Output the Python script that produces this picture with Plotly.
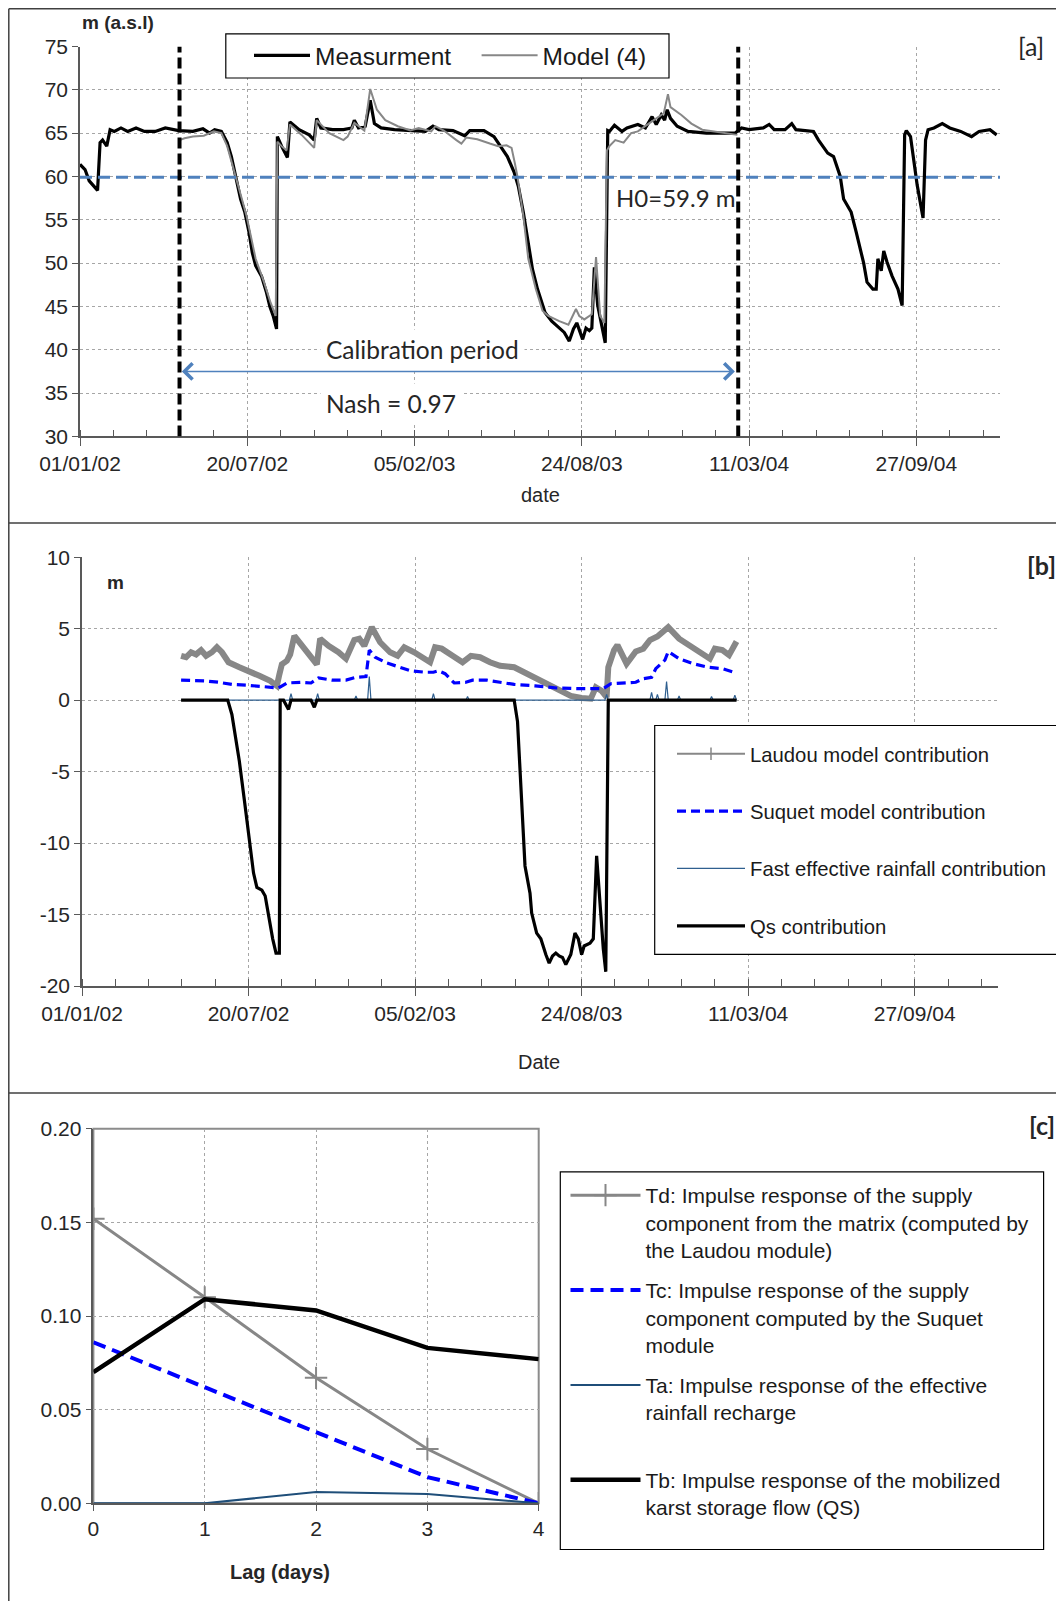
import pandas as pd
import plotly.graph_objects as go

# Piezometric level, contributions and impulse responses (karst model).
W, H = 1056, 1593     # page body keeps an 8 px margin
OFF = 8
START = pd.Timestamp("2002-01-01")
END_DAY = 1100

# ---- panel [a] : measured vs modelled level (days since 01/01/02)
meas_days = [0, 6, 11, 16, 21, 24, 27, 32, 36, 41, 49, 57, 67, 77, 90, 102, 118, 135, 147, 155,
             161, 169, 176, 181, 186, 192, 197, 202, 206, 210, 217, 223, 227, 231, 235, 236, 241,
             248, 251, 262, 274, 280, 283, 288, 302, 315, 325, 328, 333, 341, 347, 352, 360, 376,
             397, 413, 422, 429, 446, 460, 466, 483, 495, 505, 511, 519, 524, 530, 536, 541, 547,
             556, 564, 573, 579, 585, 590, 594, 598, 601, 605, 609, 612, 615, 619, 624, 628, 631,
             633, 639, 648, 654, 667, 676, 684, 689, 695, 699, 702, 706, 714, 727, 749, 783, 791,
             800, 817, 824, 830, 843, 851, 856, 877, 883, 890, 894, 901, 909, 913, 922, 928, 933,
             937, 941, 948, 952, 954, 958, 961, 965, 971, 978, 983, 986, 988, 993, 1001, 1008,
             1011, 1014, 1021, 1031, 1040, 1053, 1066, 1075, 1088, 1096]
meas_level = [61.4, 60.8, 59.5, 58.9, 58.4, 63.9, 64.2, 63.5, 65.4, 65.2, 65.6, 65.2, 65.6, 65.2,
              65.2, 65.6, 65.3, 65.2, 65.5, 65.0, 65.4, 65.2, 63.9, 62.3, 60.0, 57.4, 55.9, 53.6,
              51.2, 49.7, 48.5, 46.6, 45.0, 43.9, 42.4, 64.6, 63.5, 62.2, 66.3, 65.4, 64.8, 64.2,
              66.7, 65.6, 65.4, 65.4, 65.6, 66.5, 65.6, 65.8, 68.8, 66.1, 65.6, 65.4, 65.3, 65.2,
              65.8, 65.4, 65.3, 64.7, 65.3, 65.3, 64.6, 63.1, 62.3, 60.5, 58.9, 55.9, 52.4, 49.3,
              47.0, 44.3, 43.3, 42.5, 42.0, 41.0, 42.4, 43.1, 42.0, 41.2, 42.5, 42.2, 42.5, 49.5,
              45.1, 42.7, 40.8, 65.3, 65.2, 65.9, 65.2, 65.6, 66.0, 65.6, 66.9, 66.0, 67.1, 66.5,
              67.7, 66.7, 65.8, 65.2, 65.0, 65.0, 65.6, 65.4, 65.6, 66.0, 65.4, 65.4, 66.1, 65.4,
              65.2, 64.2, 63.3, 62.7, 62.3, 60.0, 57.4, 55.9, 53.6, 51.4, 50.0, 47.8, 47.0, 47.0,
              50.5, 49.1, 51.4, 50.1, 48.5, 47.0, 45.1, 64.8, 65.3, 64.6, 59.0, 55.2, 64.2, 65.4,
              65.6, 66.1, 65.6, 65.2, 64.6, 65.2, 65.4, 64.8]

model_days = [119, 125, 135, 148, 160, 169, 176, 181, 187, 193, 199, 205, 210, 220, 228, 234, 236,
              241, 247, 251, 265, 280, 283, 298, 315, 320, 328, 340, 347, 355, 365, 380, 395, 405,
              420, 425, 435, 450, 456, 462, 475, 490, 500, 510, 516, 520, 523, 530, 536, 545, 553,
              560, 573, 584, 593, 597, 603, 612, 617, 622, 627, 630, 633, 640, 650, 659, 667, 680,
              689, 698, 703, 706, 719, 731, 744, 757, 774, 786]
model_level = [64.2, 64.4, 64.6, 64.7, 65.2, 65.0, 63.5, 61.8, 59.7, 57.4, 55.5, 52.8, 50.5, 47.8,
               45.4, 43.9, 64.0, 63.5, 63.0, 66.0, 64.8, 63.3, 66.5, 65.0, 64.2, 64.6, 66.2, 65.3,
               70.1, 67.7, 66.5, 65.8, 65.3, 65.6, 65.2, 65.8, 65.3, 64.2, 63.8, 64.5, 64.3, 63.8,
               63.5, 63.6, 63.3, 61.5, 60.0, 55.5, 50.5, 47.0, 44.5, 43.9, 43.3, 42.9, 44.7, 43.9,
               43.5, 44.1, 50.7, 43.9, 43.1, 63.0, 63.5, 64.2, 63.9, 65.0, 65.2, 66.1, 66.7, 67.3,
               69.5, 68.0, 67.1, 66.1, 65.4, 65.2, 65.0, 64.8]

H0 = 59.9
calib_start_day, calib_end_day = 119, 787

# ---- panel [b] : contributions (m)
laudou_days = [119, 125, 131, 137, 143, 149, 156, 162, 168, 176, 189, 201, 213, 226, 234, 237, 240,
               246, 250, 255, 265, 277, 282, 286, 296, 308, 317, 327, 333, 339, 348, 358, 370, 379,
               387, 399, 412, 418, 424, 432, 445, 457, 467, 478, 490, 502, 519, 535, 552, 570, 587,
               600, 611, 617, 624, 630, 632, 639, 643, 654, 665, 674, 682, 691, 704, 717, 730, 743,
               754, 760, 769, 777, 784, 786]
laudou_m = [3.1, 3.0, 3.35, 3.2, 3.5, 3.1, 3.35, 3.7, 3.35, 2.65, 2.3, 2.05, 1.7, 1.35, 1.0, 1.8,
            2.5, 2.75, 3.2, 4.5, 3.7, 2.75, 2.5, 4.3, 3.8, 3.35, 2.9, 4.2, 4.3, 3.8, 5.1, 4.05,
            3.35, 3.1, 3.7, 3.35, 2.9, 2.65, 3.7, 3.6, 3.1, 2.65, 3.1, 3.0, 2.65, 2.4, 2.3, 1.85,
            1.35, 0.8, 0.3, 0.15, 0.1, 0.9, 0.65, 0.2, 2.3, 3.5, 3.85, 2.55, 3.4, 3.6, 4.2, 4.45,
            5.1, 4.3, 3.85, 3.4, 2.9, 3.6, 3.5, 3.15, 3.85, 4.1]

suquet_days = [119, 131, 147, 164, 180, 197, 213, 230, 236, 246, 263, 275, 284, 300, 317, 329, 341,
               345, 352, 366, 383, 395, 412, 422, 428, 436, 447, 461, 469, 486, 502, 519, 544, 570,
               600, 626, 635, 652, 665, 674, 684, 689, 700, 704, 717, 734, 752, 769, 777, 786]
suquet_m = [1.4, 1.4, 1.35, 1.25, 1.1, 1.05, 0.95, 0.9, 0.85, 1.2, 1.25, 1.2, 1.55, 1.4, 1.4, 1.6,
            1.65, 3.5, 3.0, 2.6, 2.3, 2.05, 1.95, 1.95, 2.05, 1.85, 1.2, 1.25, 1.4, 1.4, 1.25, 1.1,
            1.0, 0.85, 0.8, 0.8, 1.15, 1.2, 1.25, 1.5, 1.6, 2.2, 2.8, 3.4, 2.9, 2.55, 2.3, 2.2,
            2.05, 1.9]

rain_days = [119, 249, 251, 253, 281, 283, 285, 327, 329, 331, 343, 345, 347, 420, 422, 424, 461,
             463, 465, 628, 630, 632, 682, 684, 686, 689, 691, 693, 700, 702, 704, 715, 717, 719,
             754, 756, 758, 782, 784, 786]
rain_m = [0, 0, 0.45, 0, 0, 0.45, 0, 0, 0.3, 0, 0, 1.65, 0, 0, 0.45, 0, 0, 0.25, 0, 0, 0.4, 0, 0,
          0.55, 0, 0, 0.4, 0, 0, 1.3, 0, 0, 0.3, 0, 0, 0.25, 0, 0, 0.35, 0]

qs_days = [119, 175, 180, 189, 195, 200, 206, 210, 216, 220, 224, 229, 233, 237, 238, 242, 248, 251,
           275, 279, 282, 519, 523, 528, 532, 538, 540, 546, 551, 557, 561, 565, 569, 573, 577, 581,
           587, 592, 596, 600, 603, 610, 614, 618, 622, 626, 629, 632, 786]
qs_m = [0, 0, -1, -4.3, -7, -9.3, -12.1, -13.1, -13.3, -13.7, -15.1, -16.7, -17.7, -17.7, 0, 0,
        -0.65, 0, 0, -0.5, 0, 0, -1.5, -7, -11.6, -13.5, -14.9, -16.3, -16.7, -17.8, -18.4, -17.9,
        -17.7, -17.9, -18, -18.5, -17.8, -16.3, -16.7, -17.8, -17.2, -17, -16.7, -10.9, -14.4,
        -17.4, -19, 0, 0]
b_ticks = [-20, -15, -10, -5, 0, 5, 10]
b_ticklabels = ["-20", "-15", "-10", "-5", "0", "5", "10"]

# ---- panel [c] : impulse responses
lag = [0, 1, 2, 3, 4]
td = [0.152, 0.110, 0.067, 0.029, 0.000]
tc = [0.086, 0.062, 0.038, 0.014, 0.000]
ta = [0.000, 0.000, 0.006, 0.005, 0.000]
tb = [0.070, 0.109, 0.103, 0.083, 0.077]

GRAY = "#878787"
STEEL = "#4F81BD"
AXC = "#595959"
TXT = "#262626"
ARIAL = "Liberation Sans, Arial, sans-serif"
CALIBRI = "Lato, Carlito, sans-serif"


def dates(days):
    return START + pd.to_timedelta(days, unit="D")


def day(d):
    return START + pd.Timedelta(days=d)


# screen pixel -> paper fraction
def px(x):
    return (x - OFF) / W


def py(y):
    return 1 - (y - OFF) / H


fig = go.Figure()

# [a]
fig.add_trace(go.Scatter(x=dates(meas_days), y=meas_level, mode="lines",
                         name="Measurment\u00a0\u00a0\u00a0",
                         line=dict(color="black", width=3.2), xaxis="x", yaxis="y",
                         legend="legend"))
fig.add_trace(go.Scatter(x=dates(model_days), y=model_level, mode="lines", name="Model (4)",
                         line=dict(color=GRAY, width=2), xaxis="x", yaxis="y",
                         legend="legend"))

# [b]
fig.add_trace(go.Scatter(x=[None], y=[None], mode="lines+markers", name="Laudou model contribution",
                         line=dict(color=GRAY, width=2),
                         marker=dict(symbol="line-ns", size=9, line=dict(color=GRAY, width=1.5)),
                         xaxis="x2", yaxis="y2", legend="legend2", legendgroup="b1"))
fig.add_trace(go.Scatter(x=dates(laudou_days), y=laudou_m, mode="lines", showlegend=False,
                         line=dict(color=GRAY, width=6), xaxis="x2", yaxis="y2"))
fig.add_trace(go.Scatter(x=dates(suquet_days), y=suquet_m, mode="lines",
                         name="Suquet model contribution",
                         line=dict(color="#0000FF", width=3.2, dash="9px,5px"),
                         xaxis="x2", yaxis="y2", legend="legend2", legendgroup="b2"))
fig.add_trace(go.Scatter(x=dates(rain_days), y=rain_m, mode="lines",
                         name="Fast effective rainfall contribution",
                         line=dict(color="#2F5F8F", width=1.2),
                         xaxis="x2", yaxis="y2", legend="legend2", legendgroup="b3"))
fig.add_trace(go.Scatter(x=dates(qs_days), y=qs_m, mode="lines", name="Qs contribution",
                         line=dict(color="black", width=3.2),
                         xaxis="x2", yaxis="y2", legend="legend2", legendgroup="b4"))

# [c]
fig.add_trace(go.Scatter(x=lag, y=td, mode="lines+markers",
                         name="Td: Impulse response of the supply<br>component from the matrix "
                              "(computed by<br>the Laudou module)",
                         line=dict(color=GRAY, width=3),
                         marker=dict(symbol="cross-thin", size=16, line=dict(color=GRAY, width=2)),
                         xaxis="x3", yaxis="y3", legend="legend3", legendgroup="c1"))
fig.add_trace(go.Scatter(x=lag, y=tc, mode="lines",
                         name="Tc: Impulse response of the supply<br>component computed by the "
                              "Suquet<br>module",
                         line=dict(color="#0000FF", width=4, dash="13px,7px"),
                         xaxis="x3", yaxis="y3", legend="legend3", legendgroup="c2"))
fig.add_trace(go.Scatter(x=lag, y=ta, mode="lines",
                         name="Ta: Impulse response of the effective<br>rainfall recharge<br>\u00a0",
                         line=dict(color="#1F4E79", width=2),
                         xaxis="x3", yaxis="y3", legend="legend3", legendgroup="c3"))
fig.add_trace(go.Scatter(x=lag, y=tb, mode="lines",
                         name="Tb: Impulse response of the mobilized<br>karst storage flow (QS)"
                              "<br>\u00a0",
                         line=dict(color="black", width=4.5),
                         xaxis="x3", yaxis="y3", legend="legend3", legendgroup="c4"))

tickfont = dict(family=ARIAL, size=21, color=TXT)
grid = dict(showgrid=True, gridcolor="#A6A6A6", gridwidth=1, griddash="dot")
date_axis = dict(type="date", range=[day(0), day(END_DAY)], tick0="2002-01-01",
                 dtick=200 * 86400000, tickformat="%d/%m/%y", ticks="outside", ticklen=8,
                 tickcolor=AXC, showline=True, linecolor=AXC, linewidth=1.5, tickfont=tickfont,
                 automargin=False, zeroline=False,
                 minor=dict(tick0="2002-01-01", dtick=40 * 86400000, ticks="inside", ticklen=7,
                            tickcolor=AXC, showgrid=False),
                 **grid)
val_axis = dict(ticks="outside", ticklen=6, tickcolor=AXC, showline=True, linecolor=AXC,
                linewidth=1.5, tickfont=tickfont, automargin=False, zeroline=False, **grid)
clear = "rgba(0,0,0,0)"

fig.update_layout(
    width=W, height=H, autosize=False,
    margin=dict(l=0, r=0, t=0, b=0),
    paper_bgcolor="white", plot_bgcolor="white",
    xaxis=dict(domain=[px(80), px(1000)], anchor="y", **date_axis),
    yaxis=dict(domain=[py(436.4), py(46.5)], anchor="x", range=[30, 75], dtick=5, **val_axis),
    xaxis2=dict(domain=[px(82), px(998)], anchor="y2", **date_axis),
    yaxis2=dict(domain=[py(986), py(557.2)], anchor="x2", range=[-20, 10],
                tickvals=b_ticks, ticktext=b_ticklabels, **val_axis),
    xaxis3=dict(domain=[px(93.4), px(538.7)], anchor="y3", range=[0, 4], dtick=1,
                ticks="outside", ticklen=6, tickcolor=AXC, showline=True, linecolor=AXC,
                linewidth=1.5, tickfont=tickfont, automargin=False, zeroline=False, **grid),
    yaxis3=dict(domain=[py(1503.3), py(1128.8)], anchor="x3", range=[0, 0.2], dtick=0.05,
                tickformat=".2f", **val_axis),
    legend=dict(x=px(249), y=py(55.4), xanchor="left", yanchor="middle", orientation="h",
                bgcolor=clear, borderwidth=0, itemwidth=56,
                font=dict(family=ARIAL, size=24.5, color="#1a1a1a")),
    legend2=dict(x=px(672), y=py(734), xanchor="left", yanchor="top", bgcolor=clear,
                 borderwidth=0, itemwidth=68, tracegroupgap=28,
                 font=dict(family=ARIAL, size=20.3, color="#1a1a1a")),
    legend3=dict(x=px(565.5), y=py(1175), xanchor="left", yanchor="top", bgcolor=clear,
                 borderwidth=0, itemwidth=70, tracegroupgap=10, valign="top",
                 font=dict(family=ARIAL, size=21, color="#1a1a1a")),
    showlegend=True,
)

# frame lines of the composite figure
line_c = dict(color="#404040", width=1.5)
fig.add_shape(type="line", xref="paper", yref="paper", x0=px(8.8), x1=px(8.8), y0=py(8.8), y1=0,
              line=line_c)
for yy in (8.8, 523, 1093):
    fig.add_shape(type="line", xref="paper", yref="paper", x0=px(8.8), x1=1, y0=py(yy), y1=py(yy),
                  line=line_c)

# legend frames
for x0, x1, y0, y1 in ((225.8, 669, 33.9, 78), (654.7, 1080, 725.5, 954.3),
                       (560.3, 1043.6, 1171.9, 1549.5)):
    fig.add_shape(type="rect", xref="paper", yref="paper", x0=px(x0), x1=px(x1),
                  y0=py(y1), y1=py(y0), fillcolor="white",
                  line=dict(color="black", width=1.2), layer="above")

# [a] reference level and calibration window
fig.add_shape(type="line", xref="x", yref="y", x0=day(0), x1=day(END_DAY), y0=H0, y1=H0,
              line=dict(color=STEEL, width=3, dash="12px,6px"))
for d in (calib_start_day, calib_end_day):
    fig.add_shape(type="line", xref="x", yref="y", x0=day(d), x1=day(d), y0=30, y1=75,
                  line=dict(color="black", width=4, dash="11px,5px"))

# [c] grey plot frame
fig.add_shape(type="rect", xref="x3 domain", yref="y3 domain", x0=0, x1=1, y0=0, y1=1,
              line=dict(color="#8C8C8C", width=2), layer="below")

ann = [
    dict(text="<b>m (a.s.l)</b>", x=px(80), y=py(22.6), xanchor="left",
         font=dict(family=ARIAL, size=19, color=TXT)),
    dict(text="[a]", x=px(1031), y=py(46), xanchor="center",
         font=dict(family=CALIBRI, size=25, color=TXT)),
    dict(text="date", x=px(540), y=py(494.6), xanchor="center",
         font=dict(family=ARIAL, size=20, color=TXT)),
    dict(text="Calibration period", x=px(320), y=py(349), xanchor="left", bgcolor="white",
         borderpad=5, font=dict(family=CALIBRI, size=24.5, color=TXT)),
    dict(text="Nash = 0.97", x=px(320), y=py(403.3), xanchor="left", bgcolor="white",
         borderpad=5, font=dict(family=CALIBRI, size=24.5, color=TXT)),
    dict(text="H0=59.9 m", x=px(737), y=py(197), xanchor="right",
         font=dict(family=CALIBRI, size=24, color=TXT)),
    dict(text="<b>m</b>", x=px(115), y=py(582), xanchor="center",
         font=dict(family=ARIAL, size=19, color=TXT)),
    dict(text="<b>[b]</b>", x=px(1041.5), y=py(565.4), xanchor="center",
         font=dict(family=CALIBRI, size=25, color=TXT)),
    dict(text="Date", x=px(538.7), y=py(1062), xanchor="center",
         font=dict(family=ARIAL, size=20, color=TXT)),
    dict(text="<b>[c]</b>", x=px(1041.5), y=py(1124.7), xanchor="center",
         font=dict(family=CALIBRI, size=25, color=TXT)),
    dict(text="<b>Lag (days)</b>", x=px(280), y=py(1572), xanchor="center",
         font=dict(family=ARIAL, size=20, color=TXT)),
]
for a in ann:
    fig.add_annotation(xref="paper", yref="paper", yanchor="middle", showarrow=False, **a)

# calibration period arrow
fig.add_annotation(xref="x", yref="y", axref="x", ayref="y", x=day(calib_end_day - 4), y=37.5,
                   ax=day(calib_start_day + 1), ay=37.5, text="", showarrow=True,
                   arrowside="end+start", arrowhead=4, startarrowhead=4, arrowsize=2.1,
                   startarrowsize=2.1, arrowwidth=1.5, arrowcolor=STEEL, standoff=0,
                   startstandoff=0)

fig.write_html("out.html")
